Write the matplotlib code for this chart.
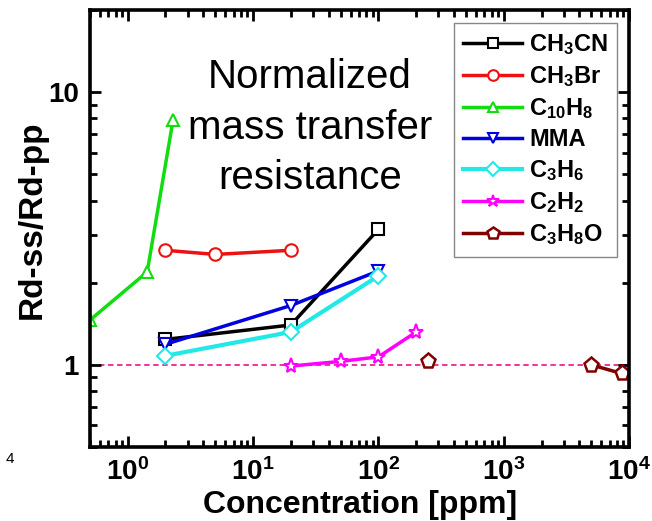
import math
import matplotlib
matplotlib.use("Agg")
import matplotlib.pyplot as plt
from matplotlib.ticker import FixedLocator, FuncFormatter, LogLocator, NullFormatter

plt.rcParams['font.family'] = ['Liberation Sans', 'DejaVu Sans']
plt.rcParams['mathtext.fontset'] = 'custom'
plt.rcParams['mathtext.rm'] = 'Liberation Sans:bold'
plt.rcParams['mathtext.bf'] = 'Liberation Sans:bold'
plt.rcParams['mathtext.default'] = 'bf'

# gas series: concentration [ppm] vs normalized resistance
ch3cn_x = [2, 20, 100]
ch3cn_y = [1.24, 1.40, 3.14]
ch3br_x = [2, 5, 20]
ch3br_y = [2.63, 2.54, 2.63]
c10h8_x = [0.5, 1.43, 2.3]
c10h8_y = [1.46, 2.19, 7.9]
mma_x = [2, 20, 100]
mma_y = [1.19, 1.65, 2.21]
c3h6_x = [2, 20, 100]
c3h6_y = [1.08, 1.32, 2.12]
c2h2_x = [20, 50, 100, 200]
c2h2_y = [0.99, 1.03, 1.07, 1.32]
c3h8o_x = [250, 5000, 8700]
c3h8o_y = [1.03, 1.0, 0.93]

labels = [r'$\mathbf{CH_3CN}$', r'$\mathbf{CH_3Br}$', r'$\mathbf{C_{10}H_8}$', 'MMA',
          r'$\mathbf{C_3H_6}$', r'$\mathbf{C_2H_2}$', r'$\mathbf{C_3H_8O}$']
x_ticks = [1, 10, 100, 1000, 10000]
y_ticks = [1, 10]

fig = plt.figure(figsize=(6.52, 5.21), dpi=100)
ax = fig.add_axes([0.138, 0.142, 0.827, 0.839])
ax.set_xscale('log')
ax.set_yscale('log')

ax.axhline(1, color='#ee2299', lw=1.3, ls=(0, (3, 2)), zorder=1)

style = dict(lw=2.5, mfc='white', mew=1.5, ms=9)
ax.plot(ch3cn_x, ch3cn_y, '-s', color='black', label=labels[0], **style)
ax.plot(ch3br_x, ch3br_y, '-o', color='#ee1111', label=labels[1], **style)
ax.plot(c10h8_x, c10h8_y, '-^', color='#11dd11', label=labels[2], **style)
ax.plot(mma_x, mma_y, '-v', color='#0000e0', label=labels[3], **style)
ax.plot(c3h6_x, c3h6_y, '-D', color='#22e8e8', label=labels[4], **dict(style, ms=8, lw=3))
ax.plot(c2h2_x, c2h2_y, '-*', color='#ff00ff', label=labels[5], **dict(style, ms=11))
# first propanol point stands alone, the other two are joined
ax.plot(c3h8o_x[:1], c3h8o_y[:1], 'p', color='#800000', mfc='white', mew=1.8, ms=11)
ax.plot(c3h8o_x[1:], c3h8o_y[1:], '-p', color='#800000', label=labels[6],
        **dict(style, ms=11, mew=1.8))

ax.set_xlim(0.5, 1e4)
ax.set_ylim(0.5, 20)

ax.xaxis.set_major_locator(FixedLocator(x_ticks))
ax.xaxis.set_major_formatter(FuncFormatter(lambda v, p: r'$\mathbf{10^{%d}}$' % round(math.log10(v))))
ax.xaxis.set_minor_locator(LogLocator(base=10, subs=range(2, 10)))
ax.xaxis.set_minor_formatter(NullFormatter())
ax.yaxis.set_major_locator(FixedLocator(y_ticks))
ax.yaxis.set_major_formatter(FuncFormatter(lambda v, p: '%d' % v))
ax.yaxis.set_minor_locator(LogLocator(base=10, subs=range(2, 10)))
ax.yaxis.set_minor_formatter(NullFormatter())

ax.tick_params(which='both', direction='in', top=True, right=True, width=2)
ax.tick_params(which='major', length=8, labelsize=20, pad=8)
ax.tick_params(which='minor', length=5)
for lab in ax.get_yticklabels():
    lab.set_fontweight('bold')
for sp in ax.spines.values():
    sp.set_linewidth(2.6)

ax.set_xlabel('Concentration [ppm]', fontsize=23, fontweight='bold', labelpad=3)
ax.set_ylabel('Rd-ss/Rd-pp', fontsize=24, fontweight='bold')
ax.yaxis.set_label_coords(-0.078, 0.52)

ax.text(0.408, 0.89, 'Normalized\nmass transfer\nresistance', transform=ax.transAxes,
        ha='center', va='top', fontsize=29, linespacing=1.42)

leg = ax.legend(loc='upper right', bbox_to_anchor=(0.978, 0.970), borderaxespad=0,
                prop={'weight': 'bold', 'size': 17}, fancybox=False,
                edgecolor='#888888', framealpha=1, handlelength=2.5, handletextpad=0.3,
                labelspacing=0.3, borderpad=0.4, markerscale=0.85)
leg.get_frame().set_linewidth(1.0)

fig.text(0.008, 0.112, '4', fontsize=11)

fig.savefig('out.png', dpi=100)
